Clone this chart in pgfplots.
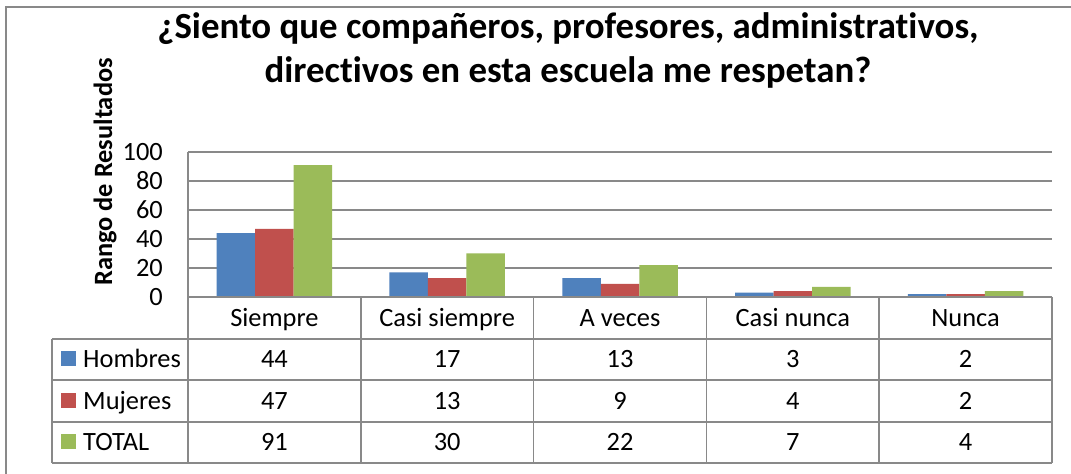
\documentclass[border=0pt]{standalone}
\usepackage{fontspec}
\setmainfont{Carlito}[Ligatures=CommonOff]
\usepackage{pgfplots}
\pgfplotsset{compat=1.18}
\definecolor{cHom}{HTML}{4F81BD}
\definecolor{cMuj}{HTML}{C0504D}
\definecolor{cTot}{HTML}{9BBB59}
\definecolor{lineg}{HTML}{898989}
\newcommand{\tfont}{\fontsize{26.5}{26.5}\selectfont}
\begin{document}
\begin{tikzpicture}
\useasboundingbox (0bp,0bp) rectangle (1071bp,474bp);
\fill[white] (0bp,0bp) rectangle (1071bp,474bp);
\draw[lineg, line width=1.5bp] (6bp,0bp) -- (6bp,467bp) -- (1071bp,467bp);
\begin{axis}[at={(188bp,177bp)}, anchor=south west, scale only axis,
  width=864bp, height=145bp,
  xmin=-0.5, xmax=4.5, ymin=0, ymax=100, ytick={0,20,...,100},
  axis x line=none, axis y line*=left,
  y axis line style={lineg, line width=1.5bp},
  ymajorgrids, grid style={lineg, line width=1.5bp},
  major tick length=0pt,
  yticklabel style={font=\tfont, inner sep=0pt, xshift=-25bp},
  /pgf/number format/assume math mode=true,
  ybar=0pt, bar width=0.2228,
  clip=false]
\addplot[fill=cHom, draw=none] coordinates {(0,44) (1,17) (2,13) (3,3) (4,2)};
\addplot[fill=cMuj, draw=none] coordinates {(0,47) (1,13) (2,9) (3,4) (4,2)};
\addplot[fill=cTot, draw=none] coordinates {(0,91) (1,30) (2,22) (3,7) (4,4)};
\end{axis}
\begin{scope}[x=1bp, y=1bp]
\node[anchor=base, font=\bfseries\fontsize{37}{37}\selectfont] at (568,435) {¿Siento que compañeros, profesores, administrativos,};
\node[anchor=base, font=\bfseries\fontsize{37}{37}\selectfont] at (568,391) {directivos en esta escuela me respetan?};
\node[anchor=base, rotate=90, font=\bfseries\fontsize{26.5}{26.5}\selectfont] at (112,302) {Rango de Resultados};
\draw[lineg, line width=1.5bp] (188,177) -- (1052,177);
\foreach \yy in {135,94,52,11} \draw[lineg, line width=1.5bp] (52,\yy) -- (1052,\yy);
\draw[lineg, line width=1.5bp] (52,135) -- (52,11);
\foreach \i in {0,...,5} \draw[lineg, line width=1.5bp] (188+172.8*\i,177) -- (188+172.8*\i,11);
\foreach \c [count=\i from 0] in {Siempre,Casi siempre,A veces,Casi nunca,Nunca}
  \node[anchor=base, font=\tfont, inner sep=0pt] at (274.4+172.8*\i,148) {\c};
\fill[cHom] (61,108) rectangle (76,123);
\fill[cMuj] (61,66) rectangle (76,81);
\fill[cTot] (61,25) rectangle (76,40);
\node[anchor=base west, font=\tfont, inner sep=0pt] at (83,107) {Hombres};
\node[anchor=base west, font=\tfont, inner sep=0pt] at (83,65) {Mujeres};
\node[anchor=base west, font=\tfont, inner sep=0pt] at (83,24) {TOTAL};
\foreach \v [count=\i from 0] in {44,17,13,3,2}
  \node[anchor=base, font=\tfont, inner sep=0pt] at (274.4+172.8*\i,107) {\v};
\foreach \v [count=\i from 0] in {47,13,9,4,2}
  \node[anchor=base, font=\tfont, inner sep=0pt] at (274.4+172.8*\i,65) {\v};
\foreach \v [count=\i from 0] in {91,30,22,7,4}
  \node[anchor=base, font=\tfont, inner sep=0pt] at (274.4+172.8*\i,24) {\v};
\end{scope}
\end{tikzpicture}
\end{document}
